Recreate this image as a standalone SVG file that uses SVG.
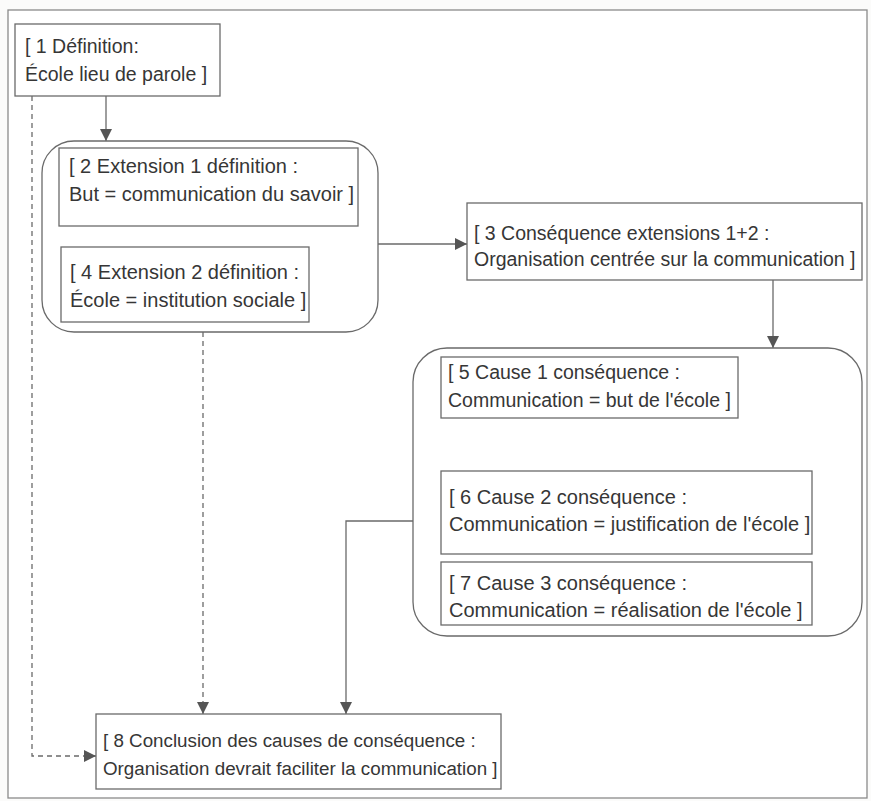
<svg xmlns="http://www.w3.org/2000/svg" width="871" height="801" viewBox="0 0 871 801">
  <style>
    .box { fill: #ffffff; stroke: #6a6a6a; stroke-width: 1.3; }
    .group { fill: none; stroke: #6a6a6a; stroke-width: 1.3; }
    .frame { fill: #ffffff; stroke: #8a8a8a; stroke-width: 1.3; }
    .t { font-family: "Liberation Sans", Arial, sans-serif; font-size: 20px; fill: #363636; }
    .t195 { font-size: 19.5px; }
    .t188 { font-size: 18.8px; }
    .link { fill: none; stroke: #6a6a6a; stroke-width: 1.3; }
    .dash { stroke-dasharray: 5 4; }
  </style>
  <defs>
    <marker id="arrow" viewBox="0 0 10 10" refX="10" refY="5" markerWidth="12" markerHeight="12" markerUnits="userSpaceOnUse" orient="auto">
      <path d="M0,0 L10,5 L0,10 z" fill="#555555"/>
    </marker>
  </defs>

  <rect x="0" y="0" width="871" height="801" fill="#fbfbfa"/>
  <rect class="frame" x="8" y="10" width="859" height="788"/>

  <!-- connectors -->
  <g id="connectors">
    <line class="link" x1="106" y1="96" x2="106" y2="141" marker-end="url(#arrow)"/>
    <line class="link" x1="378" y1="244" x2="467" y2="244" marker-end="url(#arrow)"/>
    <line class="link" x1="773" y1="280" x2="773" y2="348" marker-end="url(#arrow)"/>
    <polyline class="link dash" points="32,96 32,756 96,756" marker-end="url(#arrow)"/>
    <line class="link dash" x1="203" y1="332" x2="203" y2="714" marker-end="url(#arrow)"/>
    <polyline class="link" points="413,521 346,521 346,714" marker-end="url(#arrow)"/>
  </g>

  <!-- grouped extensions -->
  <rect id="group-extensions" class="group" x="42" y="141" width="336" height="191" rx="32" ry="32"/>
  <!-- grouped causes -->
  <rect id="group-causes" class="group" x="413" y="348" width="449" height="288" rx="34" ry="34"/>

  <g id="n1">
    <rect class="box" x="15" y="24" width="205" height="72"/>
    <text class="t t195" x="25" y="53">[ 1 Définition:</text>
    <text class="t t195" x="25" y="81">École lieu de parole ]</text>
  </g>

  <g id="n2">
    <rect class="box" x="59" y="148" width="299" height="78"/>
    <text class="t" x="69" y="173">[ 2 Extension 1 définition :</text>
    <text class="t" x="69" y="201">But = communication du savoir ]</text>
  </g>

  <g id="n4">
    <rect class="box" x="61" y="247" width="248" height="75"/>
    <text class="t" x="70" y="279">[ 4 Extension 2 définition :</text>
    <text class="t" x="70" y="307">École = institution sociale ]</text>
  </g>

  <g id="n3">
    <rect class="box" x="467" y="203" width="395" height="77"/>
    <text class="t t195" x="474" y="240">[ 3 Conséquence extensions 1+2 :</text>
    <text class="t t195" x="474" y="266">Organisation centrée sur la communication ]</text>
  </g>

  <g id="n5">
    <rect class="box" x="441" y="357" width="297" height="61"/>
    <text class="t t195" x="448" y="379">[ 5 Cause 1 conséquence :</text>
    <text class="t t195" x="448" y="407">Communication = but de l'école ]</text>
  </g>

  <g id="n6">
    <rect class="box" x="441" y="471" width="371" height="83"/>
    <text class="t" x="449" y="504">[ 6 Cause 2 conséquence :</text>
    <text class="t" x="449" y="531">Communication = justification de l'école ]</text>
  </g>

  <g id="n7">
    <rect class="box" x="441" y="562" width="371" height="63"/>
    <text class="t" x="449" y="590">[ 7 Cause 3 conséquence :</text>
    <text class="t" x="449" y="617">Communication = réalisation de l'école ]</text>
  </g>

  <g id="n8">
    <rect class="box" x="96" y="714" width="405" height="75"/>
    <text class="t t188" x="103" y="747">[ 8 Conclusion des causes de conséquence :</text>
    <text class="t t188" x="103" y="775">Organisation devrait faciliter la communication ]</text>
  </g>
</svg>
